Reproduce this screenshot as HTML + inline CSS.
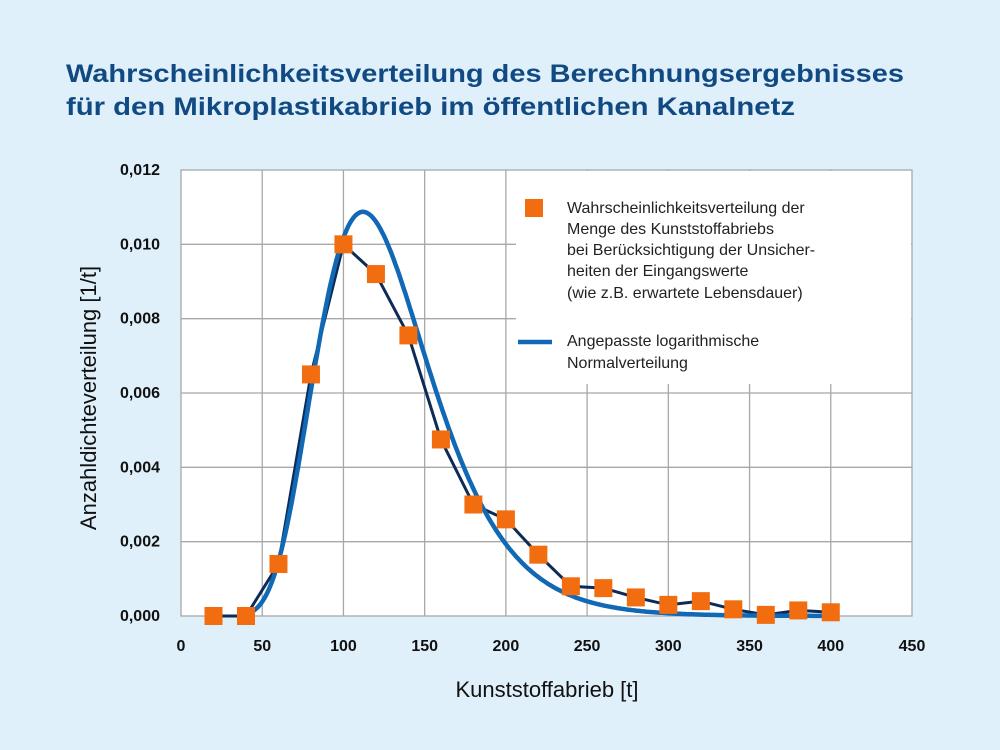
<!DOCTYPE html>
<html><head><meta charset="utf-8"><style>
html,body{margin:0;padding:0;background:#dff0fa;}
svg{display:block;font-family:"Liberation Sans",sans-serif;}
</style></head><body>
<svg id="s" width="1000" height="750" viewBox="0 0 1000 750" xmlns="http://www.w3.org/2000/svg">
<rect width="1000" height="750" fill="#dff0fa"/>
<text x="66" y="82" font-size="25" font-weight="bold" fill="#114a82" textLength="838" lengthAdjust="spacingAndGlyphs">Wahrscheinlichkeitsverteilung des Berechnungsergebnisses</text>
<text x="66" y="115" font-size="25" font-weight="bold" fill="#114a82" textLength="729" lengthAdjust="spacingAndGlyphs">für den Mikroplastikabrieb im öffentlichen Kanalnetz</text>
<rect x="181" y="170" width="731" height="446" fill="#fff"/>
<g id="grid" stroke="#a8a8a8" stroke-width="1.3" fill="none"></g>
<rect x="516" y="171" width="395" height="213" fill="#fff"/>
<rect x="181" y="170" width="731" height="446" fill="none" stroke="#a8a8a8" stroke-width="1.3"/>
<g id="ticks" font-size="16" font-weight="bold" fill="#111"></g>
<polyline id="dl" fill="none" stroke="#0d2b57" stroke-width="3"/>
<path id="cv" fill="none" stroke="#1169b5" stroke-width="4.5"/>
<g id="pts" fill="#f26d10"></g>
<rect x="525" y="199" width="18" height="18" fill="#f26d10"/>
<line x1="518" y1="342" x2="552" y2="342" stroke="#1169b5" stroke-width="4.5"/>
<g font-size="16" fill="#222">
<text x="567" y="213">Wahrscheinlichkeitsverteilung der</text>
<text x="567" y="234">Menge des Kunststoffabriebs</text>
<text x="567" y="255">bei Berücksichtigung der Unsicher-</text>
<text x="567" y="276">heiten der Eingangswerte</text>
<text x="567" y="298">(wie z.B. erwartete Lebensdauer)</text>
<text x="567" y="346">Angepasste logarithmische</text>
<text x="567" y="368">Normalverteilung</text>
</g>
<text x="547" y="697" font-size="22" fill="#111" text-anchor="middle">Kunststoffabrieb [t]</text>
<text transform="translate(96,398) rotate(-90)" font-size="22" fill="#111" text-anchor="middle">Anzahldichteverteilung  [1/t]</text>
</svg>
<script>
const X=v=>181+v*731/450, Y=v=>616-v*446/0.012;
const ns="http://www.w3.org/2000/svg";
function el(p,t,a,txt){const e=document.createElementNS(ns,t);for(const k in a)e.setAttribute(k,a[k]);if(txt)e.textContent=txt;document.getElementById(p).appendChild(e);}
for(let i=1;i<9;i++)el("grid","line",{x1:X(i*50),x2:X(i*50),y1:170,y2:616});
for(let i=1;i<6;i++)el("grid","line",{x1:181,x2:912,y1:Y(i*0.002),y2:Y(i*0.002)});
for(let i=0;i<=9;i++)el("ticks","text",{x:X(i*50),y:651,"text-anchor":"middle"},String(i*50));
for(let i=0;i<=6;i++)el("ticks","text",{x:160,y:Y(i*0.002)+5,"text-anchor":"end"},(i*0.002).toFixed(3).replace(".",","));
const d=[0,0,0.0014,0.0065,0.0100,0.0092,0.00755,0.00475,0.0030,0.0026,0.00165,0.0008,0.00075,0.0005,0.0003,0.0004,0.00018,0.00003,0.00015,0.0001];
let pl=[];
d.forEach((v,i)=>{const x=X(20+i*20),y=Y(v);pl.push(x.toFixed(1)+","+y.toFixed(1));el("pts","rect",{x:x-9,y:y-9,width:18,height:18});});
document.getElementById("dl").setAttribute("points",pl.join(" "));
const s=0.312,mu=Math.log(112)+s*s;let p="";
for(let x=38;x<=400;x+=1){const z=(Math.log(x)-mu)/s;const v=Math.exp(-z*z/2)/(x*s*Math.sqrt(2*Math.PI));p+=(x==38?"M":"L")+X(x).toFixed(1)+" "+Y(v).toFixed(1);}
document.getElementById("cv").setAttribute("d",p);
</script>
</body></html>
